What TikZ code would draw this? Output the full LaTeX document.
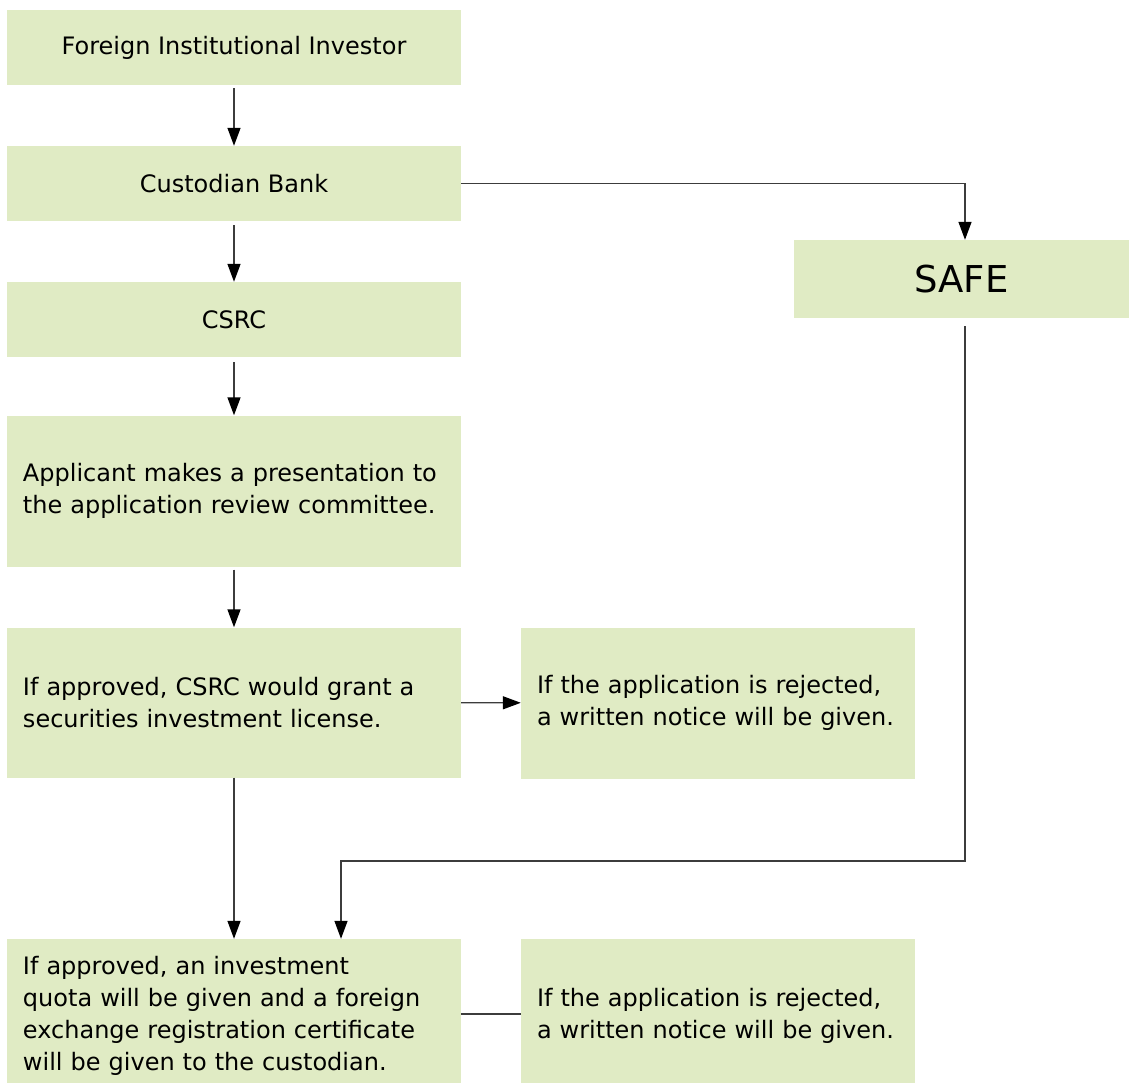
\documentclass[tikz,border=0pt]{standalone}
\usepackage{fontspec}
\setmainfont{DejaVu Sans}
\usetikzlibrary{arrows.meta}
\definecolor{boxgreen}{HTML}{E0EBC4}
\definecolor{linegray}{HTML}{3C3C3C}
\begin{document}
\begin{tikzpicture}[x=1pt, y=-1pt,
    box/.style={fill=boxgreen, minimum width=454pt, minimum height=75pt, inner sep=0pt,
      font=\fontsize{24}{32}\selectfont},
    textbox/.style={box, text width=422pt, inner xsep=16pt, align=left},
    sidebox/.style={textbox, minimum width=394pt, text width=362pt},
    arr/.style={draw=linegray, line width=1.4pt, -{Triangle[length=18pt, width=13pt, color=black]}},
    link/.style={draw=linegray, line width=1.4pt}]
  \useasboundingbox (0,0) rectangle (1129,1083);
  % left column
  \node[box] (fii) at (234,47.5) {Foreign Institutional Investor};
  \node[box] (bank) at (234,183.5) {Custodian Bank};
  \node[box] (csrc) at (234,319.5) {CSRC};
  \node[textbox, minimum height=151pt] (present) at (234,491)
    {Applicant makes a presentation to\\the application review committee.};
  \node[textbox, minimum height=150pt] (license) at (234,702.5)
    {If approved, CSRC would grant a\\securities investment license.};
  \node[textbox, minimum height=154pt] (quota) at (234,1016)
    {If approved, an investment\\quota will be given and a foreign\\exchange registration certificate\\will be given to the custodian.};
  % right column
  \node[box, minimum width=335pt, minimum height=78pt, font=\fontsize{37}{44}\selectfont]
    (safe) at (961.5,279) {SAFE};
  \node[sidebox, minimum height=151pt] (reject) at (718,703)
    {If the application is rejected,\\a written notice will be given.};
  \node[sidebox, minimum height=154pt] (rejectb) at (718,1016)
    {If the application is rejected,\\a written notice will be given.};
  \coordinate (bend) at (341,861);
  % connectors
  \draw[arr, shorten <=3pt] (fii) -- (bank);
  \draw[arr, shorten <=4pt] (bank) -- (csrc);
  \draw[arr, shorten <=5pt] (csrc) -- (present);
  \draw[arr, shorten <=3pt] (present) -- (license);
  \draw[arr] (license) -- (reject);
  \draw[arr] (license) -- (quota);
  \draw[arr] (bank.east) -| ([xshift=3.5pt]safe.north);
  \draw[arr, shorten <=8pt] ([xshift=3.5pt]safe.south) |- (bend) -- (bend |- quota.north);
  \draw[link] (quota.east |- 0,1014) -- (rejectb.west |- 0,1014);
\end{tikzpicture}
\end{document}
